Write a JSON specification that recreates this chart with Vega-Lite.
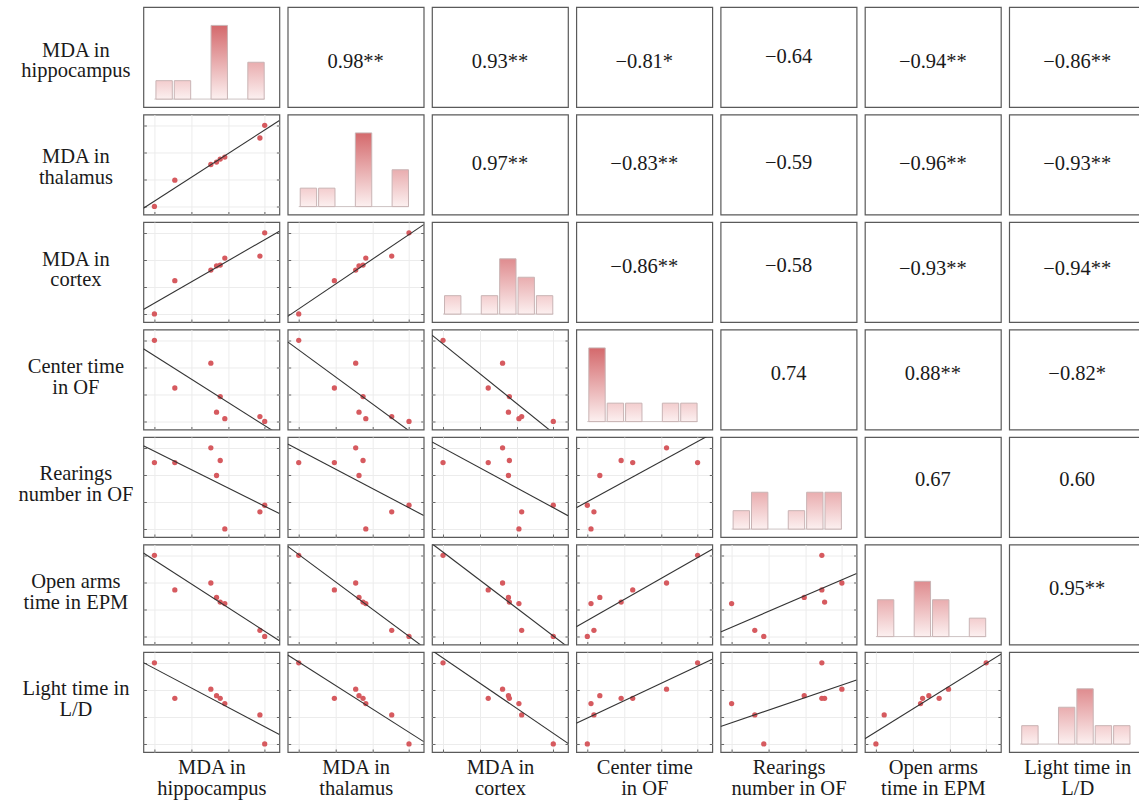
{
"$schema": "https://vega.github.io/schema/vega-lite/v6.json",
"background": "white",
"padding": {"left": 16.4, "top": 6, "right": 0, "bottom": 0},
"columns": 7,
"spacing": {"row": 7.5, "column": 8.3},
"bounds": "flush",
"datasets": {"d": [
{"id":1,"hip":0,"tha":0,"cor":0,"cen":6,"rea":4.91,"ope":6,"lig":6},
{"id":2,"hip":1.11,"tha":1.94,"cor":2.46,"cen":2.47,"rea":4.91,"ope":3.44,"lig":3.37},
{"id":3,"hip":3.07,"tha":3.10,"cor":3.24,"cen":4.31,"rea":6,"ope":3.95,"lig":4.05},
{"id":4,"hip":3.38,"tha":3.28,"cor":3.56,"cen":0.68,"rea":3.95,"ope":2.88,"lig":3.57},
{"id":5,"hip":3.58,"tha":3.50,"cor":3.61,"cen":1.84,"rea":5.06,"ope":2.54,"lig":3.37},
{"id":6,"hip":3.83,"tha":3.65,"cor":4.13,"cen":0.20,"rea":0,"ope":2.43,"lig":2.98},
{"id":7,"hip":5.74,"tha":5.06,"cor":4.28,"cen":0.36,"rea":1.26,"ope":0.45,"lig":2.14},
{"id":8,"hip":6,"tha":6,"cor":6,"cen":0,"rea":1.75,"ope":0,"lig":0}
]},
"config": {
 "font": "Liberation Serif, Times New Roman, serif",
 "view": {"stroke": "#5a5a5a", "strokeWidth": 1.2},
 "axis": {"titleFont": "Liberation Serif, Times New Roman, serif", "titleFontSize": 20.5, "titleFontWeight": "normal", "titleColor": "#1a1a1a", "titleLineHeight": 21, "labels": false, "domain": false, "tickSize": -3, "tickColor": "#666666", "gridColor": "#ececec", "grid": false},
 "axisX": {"titleBaseline": "top", "titleY": 5.5},
 "axisY": {"titleAngle": 0, "titleAlign": "center", "titleBaseline": "middle", "titleX": -68, "titleY": 37},
 "text": {"font": "Liberation Serif, Times New Roman, serif", "fontSize": 20.5, "color": "#1a1a1a"},
 "point": {"filled": true, "size": 28, "color": "#d65a5f", "opacity": 1},
 "line": {"color": "#333333", "strokeWidth": 1.1},
 "rule": {"color": "#cdc4c4", "strokeWidth": 1},
 "bar": {"stroke": "#c9b4b5", "strokeWidth": 1, "binSpacing": 2}
},
"concat": [
{"width":136,"height":100,"layer":[
 {"data":{"values":[{}]},"mark":"rule","encoding":{"x":{"datum":0,"type":"quantitative","scale":{"domain":[-0.6,6.8],"nice":false},"axis":null},"x2":{"datum":6},"y":{"datum":0,"type":"quantitative","scale":{"domain":[-0.43,5],"nice":false},"axis":{"title":["MDA in","hippocampus"],"ticks":false,"titleY":43}}}},
 {"data":{"name":"d"},"transform":[{"bin":{"extent":[0,6],"step":1},"field":"hip","as":"b_hip"},{"aggregate":[{"op":"count","as":"n"}],"groupby":["b_hip","b_hip_end"]}],"mark":"bar","encoding":{"x":{"field":"b_hip","type":"quantitative","bin":{"binned":true},"axis":null},"x2":{"field":"b_hip_end"},"y":{"field":"n","type":"quantitative","axis":{"title":["MDA in","hippocampus"],"ticks":false,"titleY":43}},"color":{"condition":[{"test":"datum.n===1","value":{"gradient":"linear","x1":0,"y1":0,"x2":0,"y2":1,"stops":[{"offset":0,"color":"#f3cdce"},{"offset":1,"color":"#fcf0f0"}]}},{"test":"datum.n===2","value":{"gradient":"linear","x1":0,"y1":0,"x2":0,"y2":1,"stops":[{"offset":0,"color":"#e9adaf"},{"offset":1,"color":"#fcf0f0"}]}},{"test":"datum.n===3","value":{"gradient":"linear","x1":0,"y1":0,"x2":0,"y2":1,"stops":[{"offset":0,"color":"#df8c8f"},{"offset":1,"color":"#fcf0f0"}]}}],"value":{"gradient":"linear","x1":0,"y1":0,"x2":0,"y2":1,"stops":[{"offset":0,"color":"#d4696c"},{"offset":1,"color":"#fcf0f0"}]}}}}
]},
{"width":136,"height":100,"data":{"values":[{"r":"0.98**"}]},"mark":"text","encoding":{"text":{"field":"r","type":"nominal"},"x":{"datum":0.5,"type":"quantitative","scale":{"domain":[0,1]},"axis":null},"y":{"datum":0.455,"type":"quantitative","scale":{"domain":[0,1]},"axis":null}}},
{"width":136,"height":100,"data":{"values":[{"r":"0.93**"}]},"mark":"text","encoding":{"text":{"field":"r","type":"nominal"},"x":{"datum":0.5,"type":"quantitative","scale":{"domain":[0,1]},"axis":null},"y":{"datum":0.455,"type":"quantitative","scale":{"domain":[0,1]},"axis":null}}},
{"width":136,"height":100,"data":{"values":[{"r":"−0.81*"}]},"mark":"text","encoding":{"text":{"field":"r","type":"nominal"},"x":{"datum":0.5,"type":"quantitative","scale":{"domain":[0,1]},"axis":null},"y":{"datum":0.455,"type":"quantitative","scale":{"domain":[0,1]},"axis":null}}},
{"width":136,"height":100,"data":{"values":[{"r":"−0.64"}]},"mark":"text","encoding":{"text":{"field":"r","type":"nominal"},"x":{"datum":0.5,"type":"quantitative","scale":{"domain":[0,1]},"axis":null},"y":{"datum":0.5,"type":"quantitative","scale":{"domain":[0,1]},"axis":null}}},
{"width":136,"height":100,"data":{"values":[{"r":"−0.94**"}]},"mark":"text","encoding":{"text":{"field":"r","type":"nominal"},"x":{"datum":0.5,"type":"quantitative","scale":{"domain":[0,1]},"axis":null},"y":{"datum":0.455,"type":"quantitative","scale":{"domain":[0,1]},"axis":null}}},
{"width":136,"height":100,"data":{"values":[{"r":"−0.86**"}]},"mark":"text","encoding":{"text":{"field":"r","type":"nominal"},"x":{"datum":0.5,"type":"quantitative","scale":{"domain":[0,1]},"axis":null},"y":{"datum":0.455,"type":"quantitative","scale":{"domain":[0,1]},"axis":null}}},

{"width":136,"height":100,"data":{"name":"d"},"resolve":{"axis":{"y":"independent"}},"layer":[{"mark":"point","encoding":{"x":{"field":"hip","type":"quantitative","scale":{"domain":[-0.6,6.8],"nice":false},"axis":{"values":[0,2,4,6],"grid":true,"title":null}},"y":{"field":"tha","type":"quantitative","scale":{"domain":[-0.6,6.8],"nice":false},"axis":{"values":[0,2,4,6],"grid":true,"title":["MDA in","thalamus"],"titleY":42}}}},{"transform":[{"regression":"tha","on":"hip","extent":[-0.6,6.8]}],"mark":{"type":"line","clip":true},"encoding":{"x":{"field":"hip","type":"quantitative"},"y":{"field":"tha","type":"quantitative","axis":{"orient":"right","values":[0,2,4,6],"title":null}}}}]},
{"width":136,"height":100,"layer":[
 {"data":{"values":[{}]},"mark":"rule","encoding":{"x":{"datum":0,"type":"quantitative","scale":{"domain":[-0.6,6.8],"nice":false},"axis":null},"x2":{"datum":6},"y":{"datum":0,"type":"quantitative","scale":{"domain":[-0.43,5],"nice":false},"axis":null}}},
 {"data":{"name":"d"},"transform":[{"bin":{"extent":[0,6],"step":1},"field":"tha","as":"b_tha"},{"aggregate":[{"op":"count","as":"n"}],"groupby":["b_tha","b_tha_end"]}],"mark":"bar","encoding":{"x":{"field":"b_tha","type":"quantitative","bin":{"binned":true},"axis":null},"x2":{"field":"b_tha_end"},"y":{"field":"n","type":"quantitative","axis":null},"color":{"condition":[{"test":"datum.n===1","value":{"gradient":"linear","x1":0,"y1":0,"x2":0,"y2":1,"stops":[{"offset":0,"color":"#f3cdce"},{"offset":1,"color":"#fcf0f0"}]}},{"test":"datum.n===2","value":{"gradient":"linear","x1":0,"y1":0,"x2":0,"y2":1,"stops":[{"offset":0,"color":"#e9adaf"},{"offset":1,"color":"#fcf0f0"}]}},{"test":"datum.n===3","value":{"gradient":"linear","x1":0,"y1":0,"x2":0,"y2":1,"stops":[{"offset":0,"color":"#df8c8f"},{"offset":1,"color":"#fcf0f0"}]}}],"value":{"gradient":"linear","x1":0,"y1":0,"x2":0,"y2":1,"stops":[{"offset":0,"color":"#d4696c"},{"offset":1,"color":"#fcf0f0"}]}}}}
]},
{"width":136,"height":100,"data":{"values":[{"r":"0.97**"}]},"mark":"text","encoding":{"text":{"field":"r","type":"nominal"},"x":{"datum":0.5,"type":"quantitative","scale":{"domain":[0,1]},"axis":null},"y":{"datum":0.505,"type":"quantitative","scale":{"domain":[0,1]},"axis":null}}},
{"width":136,"height":100,"data":{"values":[{"r":"−0.83**"}]},"mark":"text","encoding":{"text":{"field":"r","type":"nominal"},"x":{"datum":0.5,"type":"quantitative","scale":{"domain":[0,1]},"axis":null},"y":{"datum":0.505,"type":"quantitative","scale":{"domain":[0,1]},"axis":null}}},
{"width":136,"height":100,"data":{"values":[{"r":"−0.59"}]},"mark":"text","encoding":{"text":{"field":"r","type":"nominal"},"x":{"datum":0.5,"type":"quantitative","scale":{"domain":[0,1]},"axis":null},"y":{"datum":0.515,"type":"quantitative","scale":{"domain":[0,1]},"axis":null}}},
{"width":136,"height":100,"data":{"values":[{"r":"−0.96**"}]},"mark":"text","encoding":{"text":{"field":"r","type":"nominal"},"x":{"datum":0.5,"type":"quantitative","scale":{"domain":[0,1]},"axis":null},"y":{"datum":0.505,"type":"quantitative","scale":{"domain":[0,1]},"axis":null}}},
{"width":136,"height":100,"data":{"values":[{"r":"−0.93**"}]},"mark":"text","encoding":{"text":{"field":"r","type":"nominal"},"x":{"datum":0.5,"type":"quantitative","scale":{"domain":[0,1]},"axis":null},"y":{"datum":0.505,"type":"quantitative","scale":{"domain":[0,1]},"axis":null}}},

{"width":136,"height":100,"data":{"name":"d"},"resolve":{"axis":{"y":"independent"}},"layer":[{"mark":"point","encoding":{"x":{"field":"hip","type":"quantitative","scale":{"domain":[-0.6,6.8],"nice":false},"axis":{"values":[0,2,4,6],"grid":true,"title":null}},"y":{"field":"cor","type":"quantitative","scale":{"domain":[-0.6,6.8],"nice":false},"axis":{"values":[0,2,4,6],"grid":true,"title":["MDA in","cortex"]}}}},{"transform":[{"regression":"cor","on":"hip","extent":[-0.6,6.8]}],"mark":{"type":"line","clip":true},"encoding":{"x":{"field":"hip","type":"quantitative"},"y":{"field":"cor","type":"quantitative","axis":{"orient":"right","values":[0,2,4,6],"title":null}}}}]},
{"width":136,"height":100,"data":{"name":"d"},"resolve":{"axis":{"y":"independent"}},"layer":[{"mark":"point","encoding":{"x":{"field":"tha","type":"quantitative","scale":{"domain":[-0.6,6.8],"nice":false},"axis":{"values":[0,2,4,6],"grid":true,"title":null}},"y":{"field":"cor","type":"quantitative","scale":{"domain":[-0.6,6.8],"nice":false},"axis":{"values":[0,2,4,6],"grid":true,"title":null}}}},{"transform":[{"regression":"cor","on":"tha","extent":[-0.6,6.8]}],"mark":{"type":"line","clip":true},"encoding":{"x":{"field":"tha","type":"quantitative"},"y":{"field":"cor","type":"quantitative","axis":{"orient":"right","values":[0,2,4,6],"title":null}}}}]},
{"width":136,"height":100,"layer":[
 {"data":{"values":[{}]},"mark":"rule","encoding":{"x":{"datum":0,"type":"quantitative","scale":{"domain":[-0.6,6.8],"nice":false},"axis":null},"x2":{"datum":6},"y":{"datum":0,"type":"quantitative","scale":{"domain":[-0.43,5],"nice":false},"axis":null}}},
 {"data":{"name":"d"},"transform":[{"bin":{"extent":[0,6],"step":1},"field":"cor","as":"b_cor"},{"aggregate":[{"op":"count","as":"n"}],"groupby":["b_cor","b_cor_end"]}],"mark":"bar","encoding":{"x":{"field":"b_cor","type":"quantitative","bin":{"binned":true},"axis":null},"x2":{"field":"b_cor_end"},"y":{"field":"n","type":"quantitative","axis":null},"color":{"condition":[{"test":"datum.n===1","value":{"gradient":"linear","x1":0,"y1":0,"x2":0,"y2":1,"stops":[{"offset":0,"color":"#f3cdce"},{"offset":1,"color":"#fcf0f0"}]}},{"test":"datum.n===2","value":{"gradient":"linear","x1":0,"y1":0,"x2":0,"y2":1,"stops":[{"offset":0,"color":"#e9adaf"},{"offset":1,"color":"#fcf0f0"}]}},{"test":"datum.n===3","value":{"gradient":"linear","x1":0,"y1":0,"x2":0,"y2":1,"stops":[{"offset":0,"color":"#df8c8f"},{"offset":1,"color":"#fcf0f0"}]}}],"value":{"gradient":"linear","x1":0,"y1":0,"x2":0,"y2":1,"stops":[{"offset":0,"color":"#d4696c"},{"offset":1,"color":"#fcf0f0"}]}}}}
]},
{"width":136,"height":100,"data":{"values":[{"r":"−0.86**"}]},"mark":"text","encoding":{"text":{"field":"r","type":"nominal"},"x":{"datum":0.5,"type":"quantitative","scale":{"domain":[0,1]},"axis":null},"y":{"datum":0.55,"type":"quantitative","scale":{"domain":[0,1]},"axis":null}}},
{"width":136,"height":100,"data":{"values":[{"r":"−0.58"}]},"mark":"text","encoding":{"text":{"field":"r","type":"nominal"},"x":{"datum":0.5,"type":"quantitative","scale":{"domain":[0,1]},"axis":null},"y":{"datum":0.56,"type":"quantitative","scale":{"domain":[0,1]},"axis":null}}},
{"width":136,"height":100,"data":{"values":[{"r":"−0.93**"}]},"mark":"text","encoding":{"text":{"field":"r","type":"nominal"},"x":{"datum":0.5,"type":"quantitative","scale":{"domain":[0,1]},"axis":null},"y":{"datum":0.53,"type":"quantitative","scale":{"domain":[0,1]},"axis":null}}},
{"width":136,"height":100,"data":{"values":[{"r":"−0.94**"}]},"mark":"text","encoding":{"text":{"field":"r","type":"nominal"},"x":{"datum":0.5,"type":"quantitative","scale":{"domain":[0,1]},"axis":null},"y":{"datum":0.53,"type":"quantitative","scale":{"domain":[0,1]},"axis":null}}},

{"width":136,"height":100,"data":{"name":"d"},"resolve":{"axis":{"y":"independent"}},"layer":[{"mark":"point","encoding":{"x":{"field":"hip","type":"quantitative","scale":{"domain":[-0.6,6.8],"nice":false},"axis":{"values":[0,2,4,6],"grid":true,"title":null}},"y":{"field":"cen","type":"quantitative","scale":{"domain":[-0.6,6.8],"nice":false},"axis":{"values":[0,2,4,6],"grid":true,"title":["Center time","in OF"]}}}},{"transform":[{"regression":"cen","on":"hip","extent":[-0.6,6.8]}],"mark":{"type":"line","clip":true},"encoding":{"x":{"field":"hip","type":"quantitative"},"y":{"field":"cen","type":"quantitative","axis":{"orient":"right","values":[0,2,4,6],"title":null}}}}]},
{"width":136,"height":100,"data":{"name":"d"},"resolve":{"axis":{"y":"independent"}},"layer":[{"mark":"point","encoding":{"x":{"field":"tha","type":"quantitative","scale":{"domain":[-0.6,6.8],"nice":false},"axis":{"values":[0,2,4,6],"grid":true,"title":null}},"y":{"field":"cen","type":"quantitative","scale":{"domain":[-0.6,6.8],"nice":false},"axis":{"values":[0,2,4,6],"grid":true,"title":null}}}},{"transform":[{"regression":"cen","on":"tha","extent":[-0.6,6.8]}],"mark":{"type":"line","clip":true},"encoding":{"x":{"field":"tha","type":"quantitative"},"y":{"field":"cen","type":"quantitative","axis":{"orient":"right","values":[0,2,4,6],"title":null}}}}]},
{"width":136,"height":100,"data":{"name":"d"},"resolve":{"axis":{"y":"independent"}},"layer":[{"mark":"point","encoding":{"x":{"field":"cor","type":"quantitative","scale":{"domain":[-0.6,6.8],"nice":false},"axis":{"values":[0,2,4,6],"grid":true,"title":null}},"y":{"field":"cen","type":"quantitative","scale":{"domain":[-0.6,6.8],"nice":false},"axis":{"values":[0,2,4,6],"grid":true,"title":null}}}},{"transform":[{"regression":"cen","on":"cor","extent":[-0.6,6.8]}],"mark":{"type":"line","clip":true},"encoding":{"x":{"field":"cor","type":"quantitative"},"y":{"field":"cen","type":"quantitative","axis":{"orient":"right","values":[0,2,4,6],"title":null}}}}]},
{"width":136,"height":100,"layer":[
 {"data":{"values":[{}]},"mark":"rule","encoding":{"x":{"datum":0,"type":"quantitative","scale":{"domain":[-0.6,6.8],"nice":false},"axis":null},"x2":{"datum":6},"y":{"datum":0,"type":"quantitative","scale":{"domain":[-0.43,5],"nice":false},"axis":null}}},
 {"data":{"name":"d"},"transform":[{"bin":{"extent":[0,6],"step":1},"field":"cen","as":"b_cen"},{"aggregate":[{"op":"count","as":"n"}],"groupby":["b_cen","b_cen_end"]}],"mark":"bar","encoding":{"x":{"field":"b_cen","type":"quantitative","bin":{"binned":true},"axis":null},"x2":{"field":"b_cen_end"},"y":{"field":"n","type":"quantitative","axis":null},"color":{"condition":[{"test":"datum.n===1","value":{"gradient":"linear","x1":0,"y1":0,"x2":0,"y2":1,"stops":[{"offset":0,"color":"#f3cdce"},{"offset":1,"color":"#fcf0f0"}]}},{"test":"datum.n===2","value":{"gradient":"linear","x1":0,"y1":0,"x2":0,"y2":1,"stops":[{"offset":0,"color":"#e9adaf"},{"offset":1,"color":"#fcf0f0"}]}},{"test":"datum.n===3","value":{"gradient":"linear","x1":0,"y1":0,"x2":0,"y2":1,"stops":[{"offset":0,"color":"#df8c8f"},{"offset":1,"color":"#fcf0f0"}]}}],"value":{"gradient":"linear","x1":0,"y1":0,"x2":0,"y2":1,"stops":[{"offset":0,"color":"#d4696c"},{"offset":1,"color":"#fcf0f0"}]}}}}
]},
{"width":136,"height":100,"data":{"values":[{"r":"0.74"}]},"mark":"text","encoding":{"text":{"field":"r","type":"nominal"},"x":{"datum":0.5,"type":"quantitative","scale":{"domain":[0,1]},"axis":null},"y":{"datum":0.56,"type":"quantitative","scale":{"domain":[0,1]},"axis":null}}},
{"width":136,"height":100,"data":{"values":[{"r":"0.88**"}]},"mark":"text","encoding":{"text":{"field":"r","type":"nominal"},"x":{"datum":0.5,"type":"quantitative","scale":{"domain":[0,1]},"axis":null},"y":{"datum":0.56,"type":"quantitative","scale":{"domain":[0,1]},"axis":null}}},
{"width":136,"height":100,"data":{"values":[{"r":"−0.82*"}]},"mark":"text","encoding":{"text":{"field":"r","type":"nominal"},"x":{"datum":0.5,"type":"quantitative","scale":{"domain":[0,1]},"axis":null},"y":{"datum":0.56,"type":"quantitative","scale":{"domain":[0,1]},"axis":null}}},

{"width":136,"height":100,"data":{"name":"d"},"resolve":{"axis":{"y":"independent"}},"layer":[{"mark":"point","encoding":{"x":{"field":"hip","type":"quantitative","scale":{"domain":[-0.6,6.8],"nice":false},"axis":{"values":[0,2,4,6],"grid":true,"title":null}},"y":{"field":"rea","type":"quantitative","scale":{"domain":[-0.6,6.8],"nice":false},"axis":{"values":[0,2,4,6],"grid":true,"title":["Rearings","number in OF"]}}}},{"transform":[{"regression":"rea","on":"hip","extent":[-0.6,6.8]}],"mark":{"type":"line","clip":true},"encoding":{"x":{"field":"hip","type":"quantitative"},"y":{"field":"rea","type":"quantitative","axis":{"orient":"right","values":[0,2,4,6],"title":null}}}}]},
{"width":136,"height":100,"data":{"name":"d"},"resolve":{"axis":{"y":"independent"}},"layer":[{"mark":"point","encoding":{"x":{"field":"tha","type":"quantitative","scale":{"domain":[-0.6,6.8],"nice":false},"axis":{"values":[0,2,4,6],"grid":true,"title":null}},"y":{"field":"rea","type":"quantitative","scale":{"domain":[-0.6,6.8],"nice":false},"axis":{"values":[0,2,4,6],"grid":true,"title":null}}}},{"transform":[{"regression":"rea","on":"tha","extent":[-0.6,6.8]}],"mark":{"type":"line","clip":true},"encoding":{"x":{"field":"tha","type":"quantitative"},"y":{"field":"rea","type":"quantitative","axis":{"orient":"right","values":[0,2,4,6],"title":null}}}}]},
{"width":136,"height":100,"data":{"name":"d"},"resolve":{"axis":{"y":"independent"}},"layer":[{"mark":"point","encoding":{"x":{"field":"cor","type":"quantitative","scale":{"domain":[-0.6,6.8],"nice":false},"axis":{"values":[0,2,4,6],"grid":true,"title":null}},"y":{"field":"rea","type":"quantitative","scale":{"domain":[-0.6,6.8],"nice":false},"axis":{"values":[0,2,4,6],"grid":true,"title":null}}}},{"transform":[{"regression":"rea","on":"cor","extent":[-0.6,6.8]}],"mark":{"type":"line","clip":true},"encoding":{"x":{"field":"cor","type":"quantitative"},"y":{"field":"rea","type":"quantitative","axis":{"orient":"right","values":[0,2,4,6],"title":null}}}}]},
{"width":136,"height":100,"data":{"name":"d"},"resolve":{"axis":{"y":"independent"}},"layer":[{"mark":"point","encoding":{"x":{"field":"cen","type":"quantitative","scale":{"domain":[-0.6,6.8],"nice":false},"axis":{"values":[0,2,4,6],"grid":true,"title":null}},"y":{"field":"rea","type":"quantitative","scale":{"domain":[-0.6,6.8],"nice":false},"axis":{"values":[0,2,4,6],"grid":true,"title":null}}}},{"transform":[{"regression":"rea","on":"cen","extent":[-0.6,6.8]}],"mark":{"type":"line","clip":true},"encoding":{"x":{"field":"cen","type":"quantitative"},"y":{"field":"rea","type":"quantitative","axis":{"orient":"right","values":[0,2,4,6],"title":null}}}}]},
{"width":136,"height":100,"layer":[
 {"data":{"values":[{}]},"mark":"rule","encoding":{"x":{"datum":0,"type":"quantitative","scale":{"domain":[-0.6,6.8],"nice":false},"axis":null},"x2":{"datum":6},"y":{"datum":0,"type":"quantitative","scale":{"domain":[-0.43,5],"nice":false},"axis":null}}},
 {"data":{"name":"d"},"transform":[{"bin":{"extent":[0,6],"step":1},"field":"rea","as":"b_rea"},{"aggregate":[{"op":"count","as":"n"}],"groupby":["b_rea","b_rea_end"]}],"mark":"bar","encoding":{"x":{"field":"b_rea","type":"quantitative","bin":{"binned":true},"axis":null},"x2":{"field":"b_rea_end"},"y":{"field":"n","type":"quantitative","axis":null},"color":{"condition":[{"test":"datum.n===1","value":{"gradient":"linear","x1":0,"y1":0,"x2":0,"y2":1,"stops":[{"offset":0,"color":"#f3cdce"},{"offset":1,"color":"#fcf0f0"}]}},{"test":"datum.n===2","value":{"gradient":"linear","x1":0,"y1":0,"x2":0,"y2":1,"stops":[{"offset":0,"color":"#e9adaf"},{"offset":1,"color":"#fcf0f0"}]}},{"test":"datum.n===3","value":{"gradient":"linear","x1":0,"y1":0,"x2":0,"y2":1,"stops":[{"offset":0,"color":"#df8c8f"},{"offset":1,"color":"#fcf0f0"}]}}],"value":{"gradient":"linear","x1":0,"y1":0,"x2":0,"y2":1,"stops":[{"offset":0,"color":"#d4696c"},{"offset":1,"color":"#fcf0f0"}]}}}}
]},
{"width":136,"height":100,"data":{"values":[{"r":"0.67"}]},"mark":"text","encoding":{"text":{"field":"r","type":"nominal"},"x":{"datum":0.5,"type":"quantitative","scale":{"domain":[0,1]},"axis":null},"y":{"datum":0.565,"type":"quantitative","scale":{"domain":[0,1]},"axis":null}}},
{"width":136,"height":100,"data":{"values":[{"r":"0.60"}]},"mark":"text","encoding":{"text":{"field":"r","type":"nominal"},"x":{"datum":0.5,"type":"quantitative","scale":{"domain":[0,1]},"axis":null},"y":{"datum":0.565,"type":"quantitative","scale":{"domain":[0,1]},"axis":null}}},

{"width":136,"height":100,"data":{"name":"d"},"resolve":{"axis":{"y":"independent"}},"layer":[{"mark":"point","encoding":{"x":{"field":"hip","type":"quantitative","scale":{"domain":[-0.6,6.8],"nice":false},"axis":{"values":[0,2,4,6],"grid":true,"title":null}},"y":{"field":"ope","type":"quantitative","scale":{"domain":[-0.6,6.8],"nice":false},"axis":{"values":[0,2,4,6],"grid":true,"title":["Open arms","time in EPM"]}}}},{"transform":[{"regression":"ope","on":"hip","extent":[-0.6,6.8]}],"mark":{"type":"line","clip":true},"encoding":{"x":{"field":"hip","type":"quantitative"},"y":{"field":"ope","type":"quantitative","axis":{"orient":"right","values":[0,2,4,6],"title":null}}}}]},
{"width":136,"height":100,"data":{"name":"d"},"resolve":{"axis":{"y":"independent"}},"layer":[{"mark":"point","encoding":{"x":{"field":"tha","type":"quantitative","scale":{"domain":[-0.6,6.8],"nice":false},"axis":{"values":[0,2,4,6],"grid":true,"title":null}},"y":{"field":"ope","type":"quantitative","scale":{"domain":[-0.6,6.8],"nice":false},"axis":{"values":[0,2,4,6],"grid":true,"title":null}}}},{"transform":[{"regression":"ope","on":"tha","extent":[-0.6,6.8]}],"mark":{"type":"line","clip":true},"encoding":{"x":{"field":"tha","type":"quantitative"},"y":{"field":"ope","type":"quantitative","axis":{"orient":"right","values":[0,2,4,6],"title":null}}}}]},
{"width":136,"height":100,"data":{"name":"d"},"resolve":{"axis":{"y":"independent"}},"layer":[{"mark":"point","encoding":{"x":{"field":"cor","type":"quantitative","scale":{"domain":[-0.6,6.8],"nice":false},"axis":{"values":[0,2,4,6],"grid":true,"title":null}},"y":{"field":"ope","type":"quantitative","scale":{"domain":[-0.6,6.8],"nice":false},"axis":{"values":[0,2,4,6],"grid":true,"title":null}}}},{"transform":[{"regression":"ope","on":"cor","extent":[-0.6,6.8]}],"mark":{"type":"line","clip":true},"encoding":{"x":{"field":"cor","type":"quantitative"},"y":{"field":"ope","type":"quantitative","axis":{"orient":"right","values":[0,2,4,6],"title":null}}}}]},
{"width":136,"height":100,"data":{"name":"d"},"resolve":{"axis":{"y":"independent"}},"layer":[{"mark":"point","encoding":{"x":{"field":"cen","type":"quantitative","scale":{"domain":[-0.6,6.8],"nice":false},"axis":{"values":[0,2,4,6],"grid":true,"title":null}},"y":{"field":"ope","type":"quantitative","scale":{"domain":[-0.6,6.8],"nice":false},"axis":{"values":[0,2,4,6],"grid":true,"title":null}}}},{"transform":[{"regression":"ope","on":"cen","extent":[-0.6,6.8]}],"mark":{"type":"line","clip":true},"encoding":{"x":{"field":"cen","type":"quantitative"},"y":{"field":"ope","type":"quantitative","axis":{"orient":"right","values":[0,2,4,6],"title":null}}}}]},
{"width":136,"height":100,"data":{"name":"d"},"resolve":{"axis":{"y":"independent"}},"layer":[{"mark":"point","encoding":{"x":{"field":"rea","type":"quantitative","scale":{"domain":[-0.6,6.8],"nice":false},"axis":{"values":[0,2,4,6],"grid":true,"title":null}},"y":{"field":"ope","type":"quantitative","scale":{"domain":[-0.6,6.8],"nice":false},"axis":{"values":[0,2,4,6],"grid":true,"title":null}}}},{"transform":[{"regression":"ope","on":"rea","extent":[-0.6,6.8]}],"mark":{"type":"line","clip":true},"encoding":{"x":{"field":"rea","type":"quantitative"},"y":{"field":"ope","type":"quantitative","axis":{"orient":"right","values":[0,2,4,6],"title":null}}}}]},
{"width":136,"height":100,"layer":[
 {"data":{"values":[{}]},"mark":"rule","encoding":{"x":{"datum":0,"type":"quantitative","scale":{"domain":[-0.6,6.8],"nice":false},"axis":null},"x2":{"datum":6},"y":{"datum":0,"type":"quantitative","scale":{"domain":[-0.43,5],"nice":false},"axis":null}}},
 {"data":{"name":"d"},"transform":[{"bin":{"extent":[0,6],"step":1},"field":"ope","as":"b_ope"},{"aggregate":[{"op":"count","as":"n"}],"groupby":["b_ope","b_ope_end"]}],"mark":"bar","encoding":{"x":{"field":"b_ope","type":"quantitative","bin":{"binned":true},"axis":null},"x2":{"field":"b_ope_end"},"y":{"field":"n","type":"quantitative","axis":null},"color":{"condition":[{"test":"datum.n===1","value":{"gradient":"linear","x1":0,"y1":0,"x2":0,"y2":1,"stops":[{"offset":0,"color":"#f3cdce"},{"offset":1,"color":"#fcf0f0"}]}},{"test":"datum.n===2","value":{"gradient":"linear","x1":0,"y1":0,"x2":0,"y2":1,"stops":[{"offset":0,"color":"#e9adaf"},{"offset":1,"color":"#fcf0f0"}]}},{"test":"datum.n===3","value":{"gradient":"linear","x1":0,"y1":0,"x2":0,"y2":1,"stops":[{"offset":0,"color":"#df8c8f"},{"offset":1,"color":"#fcf0f0"}]}}],"value":{"gradient":"linear","x1":0,"y1":0,"x2":0,"y2":1,"stops":[{"offset":0,"color":"#d4696c"},{"offset":1,"color":"#fcf0f0"}]}}}}
]},
{"width":136,"height":100,"data":{"values":[{"r":"0.95**"}]},"mark":"text","encoding":{"text":{"field":"r","type":"nominal"},"x":{"datum":0.5,"type":"quantitative","scale":{"domain":[0,1]},"axis":null},"y":{"datum":0.555,"type":"quantitative","scale":{"domain":[0,1]},"axis":null}}},

{"width":136,"height":100,"data":{"name":"d"},"resolve":{"axis":{"y":"independent"}},"layer":[{"mark":"point","encoding":{"x":{"field":"hip","type":"quantitative","scale":{"domain":[-0.6,6.8],"nice":false},"axis":{"values":[0,2,4,6],"grid":true,"title":["MDA in","hippocampus"]}},"y":{"field":"lig","type":"quantitative","scale":{"domain":[-0.6,6.8],"nice":false},"axis":{"values":[0,2,4,6],"grid":true,"title":["Light time in","L/D"]}}}},{"transform":[{"regression":"lig","on":"hip","extent":[-0.6,6.8]}],"mark":{"type":"line","clip":true},"encoding":{"x":{"field":"hip","type":"quantitative"},"y":{"field":"lig","type":"quantitative","axis":{"orient":"right","values":[0,2,4,6],"title":null}}}}]},
{"width":136,"height":100,"data":{"name":"d"},"resolve":{"axis":{"y":"independent"}},"layer":[{"mark":"point","encoding":{"x":{"field":"tha","type":"quantitative","scale":{"domain":[-0.6,6.8],"nice":false},"axis":{"values":[0,2,4,6],"grid":true,"title":["MDA in","thalamus"]}},"y":{"field":"lig","type":"quantitative","scale":{"domain":[-0.6,6.8],"nice":false},"axis":{"values":[0,2,4,6],"grid":true,"title":null}}}},{"transform":[{"regression":"lig","on":"tha","extent":[-0.6,6.8]}],"mark":{"type":"line","clip":true},"encoding":{"x":{"field":"tha","type":"quantitative"},"y":{"field":"lig","type":"quantitative","axis":{"orient":"right","values":[0,2,4,6],"title":null}}}}]},
{"width":136,"height":100,"data":{"name":"d"},"resolve":{"axis":{"y":"independent"}},"layer":[{"mark":"point","encoding":{"x":{"field":"cor","type":"quantitative","scale":{"domain":[-0.6,6.8],"nice":false},"axis":{"values":[0,2,4,6],"grid":true,"title":["MDA in","cortex"]}},"y":{"field":"lig","type":"quantitative","scale":{"domain":[-0.6,6.8],"nice":false},"axis":{"values":[0,2,4,6],"grid":true,"title":null}}}},{"transform":[{"regression":"lig","on":"cor","extent":[-0.6,6.8]}],"mark":{"type":"line","clip":true},"encoding":{"x":{"field":"cor","type":"quantitative"},"y":{"field":"lig","type":"quantitative","axis":{"orient":"right","values":[0,2,4,6],"title":null}}}}]},
{"width":136,"height":100,"data":{"name":"d"},"resolve":{"axis":{"y":"independent"}},"layer":[{"mark":"point","encoding":{"x":{"field":"cen","type":"quantitative","scale":{"domain":[-0.6,6.8],"nice":false},"axis":{"values":[0,2,4,6],"grid":true,"title":["Center time","in OF"]}},"y":{"field":"lig","type":"quantitative","scale":{"domain":[-0.6,6.8],"nice":false},"axis":{"values":[0,2,4,6],"grid":true,"title":null}}}},{"transform":[{"regression":"lig","on":"cen","extent":[-0.6,6.8]}],"mark":{"type":"line","clip":true},"encoding":{"x":{"field":"cen","type":"quantitative"},"y":{"field":"lig","type":"quantitative","axis":{"orient":"right","values":[0,2,4,6],"title":null}}}}]},
{"width":136,"height":100,"data":{"name":"d"},"resolve":{"axis":{"y":"independent"}},"layer":[{"mark":"point","encoding":{"x":{"field":"rea","type":"quantitative","scale":{"domain":[-0.6,6.8],"nice":false},"axis":{"values":[0,2,4,6],"grid":true,"title":["Rearings","number in OF"]}},"y":{"field":"lig","type":"quantitative","scale":{"domain":[-0.6,6.8],"nice":false},"axis":{"values":[0,2,4,6],"grid":true,"title":null}}}},{"transform":[{"regression":"lig","on":"rea","extent":[-0.6,6.8]}],"mark":{"type":"line","clip":true},"encoding":{"x":{"field":"rea","type":"quantitative"},"y":{"field":"lig","type":"quantitative","axis":{"orient":"right","values":[0,2,4,6],"title":null}}}}]},
{"width":136,"height":100,"data":{"name":"d"},"resolve":{"axis":{"y":"independent"}},"layer":[{"mark":"point","encoding":{"x":{"field":"ope","type":"quantitative","scale":{"domain":[-0.6,6.8],"nice":false},"axis":{"values":[0,2,4,6],"grid":true,"title":["Open arms","time in EPM"]}},"y":{"field":"lig","type":"quantitative","scale":{"domain":[-0.6,6.8],"nice":false},"axis":{"values":[0,2,4,6],"grid":true,"title":null}}}},{"transform":[{"regression":"lig","on":"ope","extent":[-0.6,6.8]}],"mark":{"type":"line","clip":true},"encoding":{"x":{"field":"ope","type":"quantitative"},"y":{"field":"lig","type":"quantitative","axis":{"orient":"right","values":[0,2,4,6],"title":null}}}}]},
{"width":136,"height":100,"layer":[
 {"data":{"values":[{}]},"mark":"rule","encoding":{"x":{"datum":0,"type":"quantitative","scale":{"domain":[-0.6,6.8],"nice":false},"axis":{"title":["Light time in","L/D"],"ticks":false}},"x2":{"datum":6},"y":{"datum":0,"type":"quantitative","scale":{"domain":[-0.43,5],"nice":false},"axis":null}}},
 {"data":{"name":"d"},"transform":[{"bin":{"extent":[0,6],"step":1},"field":"lig","as":"b_lig"},{"aggregate":[{"op":"count","as":"n"}],"groupby":["b_lig","b_lig_end"]}],"mark":"bar","encoding":{"x":{"field":"b_lig","type":"quantitative","bin":{"binned":true},"axis":{"title":["Light time in","L/D"],"ticks":false}},"x2":{"field":"b_lig_end"},"y":{"field":"n","type":"quantitative","axis":null},"color":{"condition":[{"test":"datum.n===1","value":{"gradient":"linear","x1":0,"y1":0,"x2":0,"y2":1,"stops":[{"offset":0,"color":"#f3cdce"},{"offset":1,"color":"#fcf0f0"}]}},{"test":"datum.n===2","value":{"gradient":"linear","x1":0,"y1":0,"x2":0,"y2":1,"stops":[{"offset":0,"color":"#e9adaf"},{"offset":1,"color":"#fcf0f0"}]}},{"test":"datum.n===3","value":{"gradient":"linear","x1":0,"y1":0,"x2":0,"y2":1,"stops":[{"offset":0,"color":"#df8c8f"},{"offset":1,"color":"#fcf0f0"}]}}],"value":{"gradient":"linear","x1":0,"y1":0,"x2":0,"y2":1,"stops":[{"offset":0,"color":"#d4696c"},{"offset":1,"color":"#fcf0f0"}]}}}}
]}
]
}
